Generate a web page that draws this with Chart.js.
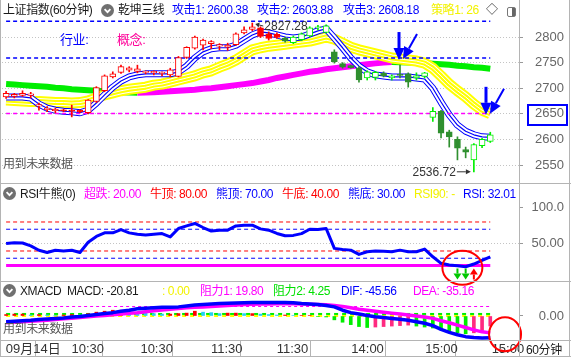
<!DOCTYPE html>
<html>
<head>
<meta charset="utf-8">
<script src="https://cdn.jsdelivr.net/npm/chart.js@4.4.0/dist/chart.umd.min.js"></script>
<style>
  html, body { margin: 0; padding: 0; background: #fff; }
  #wrap { position: relative; width: 571px; height: 360px; overflow: hidden;
          font-family: "Liberation Sans", "Noto Sans CJK SC", sans-serif; font-size: 12px; }
  canvas { position: absolute; left: 0; }
  .t { position: absolute; white-space: nowrap; line-height: 14px; letter-spacing: -0.4px; }
  .ln { position: absolute; background: #b4b4b4; }
  .ic { position: absolute; }
</style>
</head>
<body>
<div id="wrap">
  <canvas id="macd" width="571" height="78" style="top:282px"></canvas>
  <canvas id="rsi" width="571" height="116" style="top:184px"></canvas>
  <canvas id="main" width="571" height="183" style="top:0"></canvas>

  <!-- frame -->
  <div class="ln" style="left:0;top:0;width:1px;height:356px"></div>
  <div class="ln" style="left:519px;top:0;width:1px;height:356px"></div>
  <div class="ln" style="left:569px;top:0;width:1px;height:356px"></div>
  <div class="ln" style="left:0;top:183px;width:571px;height:1px"></div>
  <div class="ln" style="left:0;top:281px;width:571px;height:1px"></div>
  <div class="ln" style="left:0;top:340px;width:571px;height:1px"></div>
  <div class="ln" style="left:0;top:356px;width:571px;height:1px"></div>

  <!-- header main -->
  <div class="t" style="left:3px;top:3px;color:#1a1a1a">上证指数(60分钟)</div>
  <svg class="ic" style="left:101px;top:4px" width="13" height="13"><circle cx="6.5" cy="6.5" r="6.5" fill="#707070"/><polyline points="3.6,5.2 6.5,8.2 9.4,5.2" fill="none" stroke="#fff" stroke-width="1.8"/></svg>
  <div class="t" style="left:118px;top:3px;color:#1a1a1a">乾坤三线</div>
  <div class="t" style="left:172px;top:3px;color:#0000ff">攻击1: 2600.38</div>
  <div class="t" style="left:257px;top:3px;color:#0000ff">攻击2: 2603.88</div>
  <div class="t" style="left:343px;top:3px;color:#0000ff">攻击3: 2608.18</div>
  <div class="t" style="left:431px;top:3px;color:#f2f200">策略1: 26</div>
  <div class="t" style="left:486px;top:3px;color:#333">◇</div>
  <svg class="ic" style="left:507px;top:7px" width="9" height="10"><rect x="0.5" y="0.5" width="8" height="9" rx="1.5" fill="#fff" stroke="#777"/><rect x="5" y="1" width="3" height="8" fill="#666"/></svg>
  <div class="t" style="left:60px;top:33px;color:#0000ff;font-size:13px">行业:</div>
  <div class="t" style="left:117px;top:33px;color:#ff0099;font-size:13px">概念:</div>
  <div class="t" style="left:3px;top:157px;color:#555">用到未来数据</div>

  <!-- header rsi -->
  <svg class="ic" style="left:3px;top:187px" width="13" height="13"><circle cx="6.5" cy="6.5" r="6.5" fill="#707070"/><polyline points="3.6,5.2 6.5,8.2 9.4,5.2" fill="none" stroke="#fff" stroke-width="1.8"/></svg>
  <div class="t" style="left:20px;top:187px;color:#1a1a1a">RSI牛熊(0)</div>
  <div class="t" style="left:84px;top:187px;color:#ff00ff">超跌: 20.00</div>
  <div class="t" style="left:150px;top:187px;color:#ff0000">牛顶: 80.00</div>
  <div class="t" style="left:216px;top:187px;color:#0000ff">熊顶: 70.00</div>
  <div class="t" style="left:282px;top:187px;color:#ff0000">牛底: 40.00</div>
  <div class="t" style="left:348px;top:187px;color:#0000ff">熊底: 30.00</div>
  <div class="t" style="left:414px;top:187px;color:#f2f200">RSI90: -</div>
  <div class="t" style="left:463px;top:187px;color:#0000ff">RSI: 32.01</div>

  <!-- header macd -->
  <svg class="ic" style="left:3px;top:284px" width="13" height="13"><circle cx="6.5" cy="6.5" r="6.5" fill="#707070"/><polyline points="3.6,5.2 6.5,8.2 9.4,5.2" fill="none" stroke="#fff" stroke-width="1.8"/></svg>
  <div class="t" style="left:20px;top:284px;color:#1a1a1a">XMACD</div>
  <div class="t" style="left:67px;top:284px;color:#1a1a1a">MACD: -20.81</div>
  <div class="t" style="left:162px;top:284px;color:#f2f200">: 0.00</div>
  <div class="t" style="left:200px;top:284px;color:#ff00ff">阻力1: 19.80</div>
  <div class="t" style="left:273px;top:284px;color:#00e000">阻力2: 4.25</div>
  <div class="t" style="left:341px;top:284px;color:#0000ff">DIF: -45.56</div>
  <div class="t" style="left:413px;top:284px;color:#ff00ff">DEA: -35.16</div>
  <div class="t" style="left:3px;top:322px;color:#555">用到未来数据</div>
  <div class="t" style="left:526px;top:343px;color:#1a1a1a">60分钟</div>
</div>

<script>
// K线 (60分钟)
const opens  = [2683, 2684, 2686, 2686, 2665, 2658, 2656, 2658, 2657, 2657,
                2652, 2674, 2695, 2722, 2731, 2735, 2733, 2731, 2730, 2729,
                2726, 2723, 2760, 2778, 2784, 2787, 2782, 2780, 2785, 2808,
                2815, 2818, 2806, 2805, 2798, 2789, 2795, 2802, 2818, 2809,
                2771, 2748, 2744, 2740, 2720, 2721, 2729, 2720, 2727, 2728,
                2720, 2723, 2643, 2655, 2615, 2600, 2580, 2560, 2588, 2596];
const highs  = [2694, 2690, 2695, 2692, 2671, 2664, 2661, 2659, 2667, 2658,
                2678, 2703, 2726, 2732, 2745, 2742, 2745, 2734, 2734, 2732,
                2739, 2762, 2781, 2802, 2796, 2793, 2787, 2788, 2808, 2820,
                2827.28, 2820, 2810, 2808, 2800, 2802, 2808, 2820, 2823, 2824,
                2775, 2750, 2745, 2742, 2734, 2733, 2732, 2726, 2745, 2730,
                2730, 2731, 2662, 2657, 2618, 2605, 2585, 2592, 2602, 2614];
const lows   = [2680, 2681, 2684, 2681, 2657, 2654, 2652, 2654, 2644, 2652,
                2650, 2672, 2693, 2720, 2729, 2732, 2730, 2728, 2726, 2724,
                2722, 2722, 2758, 2776, 2775, 2777, 2775, 2774, 2784, 2806,
                2812, 2799, 2794, 2797, 2790, 2787, 2793, 2800, 2814, 2808,
                2749, 2739, 2739, 2712, 2716, 2716, 2722, 2716, 2720, 2702,
                2716, 2720, 2635, 2603, 2585, 2560, 2564, 2536.72, 2584, 2594];
const closes = [2690, 2688, 2690, 2689, 2668, 2661, 2659, 2656, 2655, 2654,
                2677, 2701, 2724, 2728, 2742, 2740, 2738, 2733, 2733, 2731,
                2736, 2760, 2780, 2800, 2794, 2791, 2785, 2784, 2806, 2814,
                2820, 2801, 2797, 2799, 2792, 2800, 2806, 2818, 2820, 2822,
                2752, 2741, 2740, 2716, 2732, 2731, 2724, 2724, 2725, 2712,
                2724, 2730, 2655, 2612, 2605, 2583, 2575, 2590, 2600, 2609];

// 乾坤三线
const attackLine = [2683, 2683, 2683, 2681, 2669, 2661, 2657, 2655, 2654, 2652,
                    2657, 2671, 2687, 2702, 2714, 2722, 2726, 2728, 2728, 2728,
                    2728, 2732, 2743, 2759, 2771, 2777, 2779, 2779, 2784, 2794,
                    2804, 2810, 2808, 2804, 2800, 2798, 2800, 2806, 2812, 2816,
                    2798, 2779, 2759, 2743, 2732, 2726, 2724, 2722, 2722, 2722,
                    2720, 2718, 2700, 2673, 2648, 2628, 2616, 2609, 2605, 2604];
const strategyLine = [2677, 2676, 2675, 2674, 2674, 2673, 2672, 2672, 2671, 2672,
                      2675, 2681, 2687, 2691, 2695, 2698, 2700, 2702, 2706, 2708,
                      2712, 2716, 2720, 2724, 2730, 2734, 2741, 2747, 2755, 2765,
                      2775, 2779, 2782, 2784, 2786, 2788, 2790, 2792, 2796, 2800,
                      2796, 2788, 2780, 2775, 2771, 2767, 2763, 2759, 2757, 2755,
                      2753, 2749, 2739, 2724, 2708, 2695, 2683, 2669, 2657, 2650];
const trendLine = [2708, 2707, 2706, 2705, 2704, 2703, 2701, 2700, 2698, 2697,
                   2696, 2695, 2694, 2693, 2692, 2691.5, 2691, 2691.5, 2692, 2693,
                   2694, 2695, 2696, 2697, 2699, 2700, 2702, 2704, 2706, 2708,
                   2710, 2713, 2716, 2720, 2723, 2726, 2729, 2732, 2734, 2737,
                   2739, 2741, 2743, 2745, 2747, 2748.5, 2750, 2751, 2750.5, 2750,
                   2749.5, 2749, 2748, 2747, 2746, 2744, 2743, 2741, 2740, 2738];
const blueLevels = [2831, 2759];
const pinkLevel = 2650.5;
const signalIdx = [48, 58.6];
const signalPrice = [2755, 2648];
const mainTicks = [2550, 2600, 2650, 2700, 2750, 2800];
const boxedTick = 2650;

// RSI牛熊
const rsi = [50.4, 51.5, 51, 47, 41, 38, 41, 40, 41, 38,
             52, 60, 65, 65, 69.5, 65, 63, 62, 63, 64,
             59.5, 71, 74.6, 78, 72.4, 67.5, 68.7, 68.7, 74.6, 75.6,
             75.6, 70.5, 68.7, 64.2, 61, 61.5, 64, 70, 69.7, 71,
             43.6, 42.2, 41.2, 35.3, 38.9, 39.9, 39.5, 38.9, 41.2, 39,
             38.9, 42.6, 32, 23, 20.6, 19.7, 18.3, 22, 27, 32.01];
const oversold = 20, bullTop = 80, bearTop = 70, bullBottom = 40, bearBottom = 30;
const rsiTicks = [50, 100];
const rsiDownIdx = [55, 56];
const rsiUpIdx = [57];

// XMACD
const dif = [-12, -11, -10, -9, -7.5, -6, -5, -4, -2, -1,
             1, 3, 5, 7, 10, 12, 15, 16, 17, 18,
             18, 19, 21, 23, 24, 25, 26, 26.5, 27, 27.5,
             28, 28, 28, 28, 28, 27.5, 26, 25, 24, 22,
             19, 12, 7, 4, 1, -1.5, -3, -5, -7, -9,
             -12, -15, -20, -28, -34, -39, -43, -45, -46, -45.56];
const dea = [-14, -13, -12, -11, -10, -9, -7.5, -6, -4.5, -3,
             -1.5, 0, 1, 2.5, 4, 5.5, 7, 9, 11, 12.5,
             14, 15.5, 17, 18, 19, 20, 21, 22, 23, 24,
             24.5, 25, 25, 25.5, 25.5, 25.5, 25, 24.5, 24, 23.5,
             22, 20, 17, 14, 12, 10, 8, 6, 4, 2,
             0, -2, -5, -10, -14, -19, -24, -29, -33, -35.16];
const macdBars = [3, 4, 4, 2, 3, 2, 1, 2, 3, 2,
                  5, 8, 10, 12, 12, 10, 8, 6, 5, 4,
                  4, 5, 6, 10, 8, 7, 5, 6, 6, 5,
                  5, 4, 3, 2, 2, 1, 1, 1, -1, -2,
                  -8, -13, -18, -22, -24, -23, -22, -21, -20, -19,
                  -21, -23, -25, -28, -32, -35, -37, -35, -30, -20.81];
const resist1 = 19.80, resist2 = 4.25, zeroLine = 0;

const xTickPos = [-0.4, 7.6, 16.0, 24.6, 32.6, 41.7, 50.7, 58.8];
const xLabels = ['09月14日', '10:30', '10:30', '11:30', '11:30', '14:00', '15:00', '15:00'];

// ---------------------------------------------------------------
const FONT = '"Liberation Sans", "Noto Sans CJK SC", sans-serif';
Chart.defaults.font.family = FONT;
Chart.defaults.font.size = 12;
const RED = '#ff0000', GREEN = '#00f000', DKGREEN = '#2f8f2f', BLUE = '#0000ff', YEL = '#ffff00', MAG = '#ff00ff';
const turnIdx = 34;
const N = closes.length;
const XMIN = -0.5, XMAX = 62.5;

const pts = arr => arr.map((v, i) => ({ x: i, y: v }));
const level = (val, color, w, dash, order) => ({
  type: 'line', data: [{ x: 0, y: val }, { x: N - 1, y: val }],
  borderColor: color, borderWidth: w, borderDash: dash, pointRadius: 0, order
});
// several strokes of one series on top of each other -> ribbon of thin lines
const ribbon = (arr, color, widths, topOrder) => widths.map((w, k) => ({
  type: 'line', data: pts(arr), borderColor: k % 2 ? '#fff' : color, borderWidth: w,
  pointRadius: 0, borderJoinStyle: 'round', order: topOrder + widths.length - 1 - k
}));

function candleColor(i) {
  if (i < turnIdx) return RED;
  return closes[i] >= opens[i] ? GREEN : DKGREEN;
}

// keep the x range fixed: no offset, no nice-number widening
const lockX = s => { s.min = XMIN; s.max = XMAX; };
function xAxisHidden() {
  return { type: 'linear', min: XMIN, max: XMAX, offset: false, bounds: 'data', display: false,
           afterDataLimits: lockX, afterBuildTicks: lockX,
           afterFit: s => { s.paddingLeft = 0; s.paddingRight = 0; } };
}
function yAxis(min, max, ticks, fmt, gridFn) {
  return {
    position: 'right', min, max,
    afterBuildTicks: s => { s.ticks = ticks.map(v => ({ value: v })); s.min = min; s.max = max; },
    afterFit: s => { s.width = 45; s.paddingTop = 0; s.paddingBottom = 0; },
    border: { display: false, dash: [1, 2] },
    grid: { color: gridFn, tickColor: '#999', tickLength: 4, tickBorderDash: [] },
    ticks: { color: '#666', crossAlign: 'far', font: { size: 13 }, callback: fmt }
  };
}

function arrow(ctx, x0, y0, x1, y1, head, half, color, width) {
  const a = Math.atan2(y1 - y0, x1 - x0);
  const bx = x1 - head * Math.cos(a), by = y1 - head * Math.sin(a);
  ctx.save();
  ctx.strokeStyle = color; ctx.fillStyle = color; ctx.lineWidth = width;
  ctx.beginPath(); ctx.moveTo(x0, y0); ctx.lineTo(bx, by); ctx.stroke();
  ctx.beginPath(); ctx.moveTo(x1, y1);
  ctx.lineTo(bx + half * Math.sin(a), by - half * Math.cos(a));
  ctx.lineTo(bx - half * Math.sin(a), by + half * Math.cos(a));
  ctx.closePath(); ctx.fill();
  ctx.restore();
}

const baseOpts = (layoutPad) => ({
  responsive: false, animation: false, events: [],
  layout: { padding: layoutPad },
  plugins: { legend: { display: false }, tooltip: { enabled: false } }
});

// ---------------- main chart ----------------
const mainDeco = {
  id: 'mainDeco',
  afterDraw(chart) {
    const { ctx, scales: { x, y }, chartArea } = chart;
    ctx.save();
    ctx.font = '12px ' + FONT;
    ctx.fillStyle = '#333';
    ctx.textBaseline = 'middle';
    // high
    const hi = highs.indexOf(Math.max(...highs));
    const hx = x.getPixelForValue(hi), hy = y.getPixelForValue(highs[hi]);
    ctx.textAlign = 'left';
    ctx.fillText(highs[hi].toFixed(2), hx + 12, hy + 4);
    arrow(ctx, hx + 11, hy + 3, hx + 3, hy + 1, 4, 2.5, '#333', 1);
    // low
    const lo = lows.indexOf(Math.min(...lows));
    const lx = x.getPixelForValue(lo), ly = y.getPixelForValue(lows[lo]);
    ctx.textAlign = 'right';
    ctx.fillText(lows[lo].toFixed(2), lx - 18, ly + 1);
    arrow(ctx, lx - 17, ly, lx - 3, ly, 5, 2.5, '#333', 1);
    // signal arrows
    signalIdx.forEach((si, k) => {
      const px = x.getPixelForValue(si), py = y.getPixelForValue(signalPrice[k]);
      arrow(ctx, px - 1, py - 28, px - 1, py, 12, 5.5, BLUE, 3);
      arrow(ctx, px + 17, py - 26, px + 3, py - 1, 12, 5.5, BLUE, 2);
    });
    // boxed price label
    const by = y.getPixelForValue(boxedTick);
    ctx.strokeStyle = BLUE; ctx.lineWidth = 2;
    ctx.strokeRect(chartArea.right + 9, Math.round(by) - 9, 39, 20);
    ctx.restore();
  }
};

new Chart(document.getElementById('main'), {
  type: 'bar',
  data: {
    datasets: [
      {
        type: 'bar', grouped: false, order: 0,
        data: closes.map((c, i) => ({ x: i, y: [opens[i], c] })),
        backgroundColor: closes.map((c, i) => c >= opens[i] ? '#fff' : candleColor(i)),
        borderColor: closes.map((c, i) => candleColor(i)),
        borderWidth: 1, borderSkipped: false, barThickness: 6
      },
      {
        type: 'bar', grouped: false, order: 1,
        data: closes.map((c, i) => ({ x: i, y: [lows[i], highs[i]] })),
        backgroundColor: closes.map((c, i) => candleColor(i)),
        barThickness: 1
      },
      level(blueLevels[0], BLUE, 1.5, [4, 3], 5),
      level(blueLevels[1], BLUE, 1.5, [4, 3], 5),
      level(pinkLevel, MAG, 1.5, [4, 3], 5),
      ...ribbon(attackLine, BLUE, [7, 5, 1.2], 10),
      ...ribbon(strategyLine, YEL, [11, 7, 5, 1], 15),
      {
        type: 'line', data: pts(trendLine), borderWidth: 6, pointRadius: 0, order: 30,
        borderColor: GREEN,
        segment: { borderColor: c => c.p1.parsed.y > c.p0.parsed.y ? MAG : '#00ee00' }
      }
    ]
  },
  options: {
    ...baseOpts({ left: 2, right: 7, top: 0, bottom: 0 }),
    scales: {
      x: xAxisHidden(),
      y: yAxis(2514.85, 2872.27, mainTicks, v => String(v), () => '#c4c4c4')
    }
  },
  plugins: [mainDeco]
});

// ---------------- RSI chart ----------------
const rsiDeco = {
  id: 'rsiDeco',
  afterDraw(chart) {
    const { ctx, scales: { x, y } } = chart;
    const y0 = y.getPixelForValue(oversold);
    rsiDownIdx.forEach(i => {
      const px = x.getPixelForValue(i);
      arrow(ctx, px, y0 + 3, px, y0 + 14, 6, 4, '#00c800', 2);
    });
    rsiUpIdx.forEach(i => {
      const px = x.getPixelForValue(i);
      arrow(ctx, px, y0 + 14, px, y0 + 3, 6, 4, RED, 2);
    });
    ctx.save();
    ctx.strokeStyle = RED; ctx.lineWidth = 2;
    ctx.beginPath();
    ctx.ellipse(x.getPixelForValue(55.6), y.getPixelForValue(17), 20, 17, 0, 0, Math.PI * 2);
    ctx.stroke();
    ctx.restore();
  }
};

new Chart(document.getElementById('rsi'), {
  type: 'line',
  data: {
    datasets: [
      { data: pts(rsi), borderColor: BLUE, borderWidth: 3, pointRadius: 0, order: 0, borderJoinStyle: 'round' },
      level(bullTop, RED, 1, [4, 3], 2),
      level(bearTop, BLUE, 1, [4, 3], 2),
      level(bullBottom, RED, 1, [4, 3], 2),
      level(bearBottom, BLUE, 1, [4, 3], 2),
      level(oversold, MAG, 3, [], 1)
    ]
  },
  options: {
    ...baseOpts({ left: 2, right: 7, top: 0, bottom: 19 }),
    scales: {
      x: xAxisHidden(),
      y: yAxis(-1.38, 132.4, rsiTicks, v => v.toPrecision(4),
               c => (c.tick && c.tick.value === 50) ? '#c4c4c4' : 'rgba(0,0,0,0)')
    }
  },
  plugins: [rsiDeco]
});

// ---------------- MACD chart ----------------
const barColors = macdBars.map((v, i) => {
  const p = i ? macdBars[i - 1] : 0;
  if (v >= 0) return v >= p ? RED : '#22d3f5';
  return v <= p ? '#00ee00' : '#ff2a80';
});

const macdDeco = {
  id: 'macdDeco',
  afterDraw(chart) {
    const { ctx, scales: { x, y } } = chart;
    ctx.save();
    ctx.strokeStyle = RED; ctx.lineWidth = 2;
    ctx.beginPath();
    ctx.ellipse(x.getPixelForValue(60.8), y.getPixelForValue(-38), 16, 17, 0, 0, Math.PI * 2);
    ctx.stroke();
    ctx.restore();
  }
};

new Chart(document.getElementById('macd'), {
  type: 'bar',
  data: {
    datasets: [
      { type: 'line', data: pts(dif), borderColor: BLUE, borderWidth: 3.5, pointRadius: 0, order: 1, borderJoinStyle: 'round' },
      { type: 'line', data: pts(dea), borderColor: MAG, borderWidth: 3.5, pointRadius: 0, order: 2, borderJoinStyle: 'round' },
      { type: 'bar', grouped: false, data: pts(macdBars), backgroundColor: barColors, barThickness: 3, order: 4 },
      level(resist1, MAG, 1, [3, 3], 6),
      level(resist2, '#00ee00', 2, [4, 4], 5),
      level(zeroLine, YEL, 2, [4, 4], 5)
    ]
  },
  options: {
    ...baseOpts({ left: 2, right: 7, top: 0, bottom: 0 }),
    scales: {
      x: {
        type: 'linear', min: XMIN, max: XMAX, position: 'bottom', offset: false, bounds: 'data',
        afterDataLimits: lockX,
        afterBuildTicks: s => { lockX(s); s.ticks = xTickPos.map(v => ({ value: v })); },
        afterFit: s => { s.height = 20; s.paddingLeft = 0; s.paddingRight = 0; },
        border: { display: false },
        grid: { drawOnChartArea: false, drawTicks: true, tickLength: 16, color: '#b4b4b4' },
        ticks: {
          autoSkip: false, maxRotation: 0, align: 'start', padding: -14, labelOffset: 3,
          color: '#333', font: { size: 13 }, callback: (v, i) => xLabels[i]
        }
      },
      y: yAxis(-50, 70.83, [0], v => v.toFixed(2), () => 'rgba(0,0,0,0)')
    }
  },
  plugins: [macdDeco]
});
</script>
</body>
</html>
